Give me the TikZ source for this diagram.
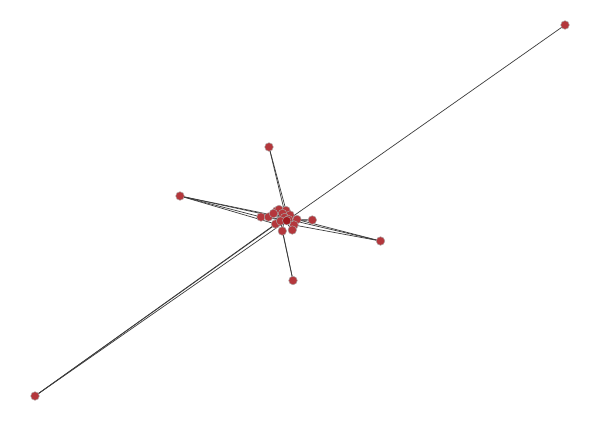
\documentclass[tikz,border=0pt]{standalone}
\begin{document}
\begin{tikzpicture}[x=1pt,y=-1pt,
  vtx/.style={circle,fill={rgb,255:red,180;green,55;blue,60},draw={rgb,255:red,170;green,160;blue,160},line width=0.5pt,inner sep=0pt,minimum size=8.5pt},
  edge/.style={draw={rgb,255:red,60;green,60;blue,60},line width=0.7pt}]
\useasboundingbox[fill=white] (0,0) rectangle (600,423);
% outer nodes
\coordinate (bl) at (35,396);
\coordinate (tr) at (565,25);
\coordinate (top) at (269,147);
\coordinate (bot) at (293,280.5);
\coordinate (lf) at (180,196);
\coordinate (rt) at (380.5,241);
\coordinate (c18) at (312.3,220);
% cluster
\coordinate (c1) at (261,217);
\coordinate (c2) at (268.5,217);
\coordinate (c3) at (276.5,211);
\coordinate (c4) at (279,209.5);
\coordinate (c5) at (286,210.5);
\coordinate (c6) at (290,215);
\coordinate (c7) at (284.5,217.5);
\coordinate (c8) at (280.5,221);
\coordinate (c9) at (288.5,219.5);
\coordinate (c10) at (297,219.5);
\coordinate (c11) at (294,225);
\coordinate (c12) at (282.3,231);
\coordinate (c13) at (292.3,230);
\coordinate (c14) at (275.5,224);
\coordinate (c15) at (273.5,213.5);
\coordinate (c16) at (282.5,213.5);
\coordinate (c17) at (286.7,220.7);
% edges
\draw[edge] (bl) -- (c14);
\draw[edge] (bl) -- (c8);
\draw[edge] (bl) -- (c17);
\draw[edge] (tr) -- (c17);
\draw[edge] (top) -- (c17);
\draw[edge] (top) -- (c9);
\draw[edge] (bot) -- (c12);
\draw[edge] (bot) -- (c8);
\draw[edge] (lf) -- (c1);
\draw[edge] (lf) -- (c7);
\draw[edge] (lf) -- (c9);
\draw[edge] (lf) -- (c14);
\draw[edge] (rt) -- (c10);
\draw[edge] (rt) -- (c9);
\draw[edge] (rt) -- (c11);
\draw[edge] (c18) -- (c17);
\draw[edge] (c18) -- (c10);
\draw[edge] (c1) -- (c17);
\draw[edge] (c2) -- (c17);
\draw[edge] (c3) -- (c13);
\draw[edge] (c5) -- (c12);
\draw[edge] (c4) -- (c11);
\draw[edge] (c15) -- (c9);
\draw[edge] (c16) -- (c14);
\draw[edge] (c6) -- (c8);
% vertices
\foreach \n in {bl,tr,top,bot,lf,rt,c18,c1,c2,c3,c4,c5,c6,c15,c16,c7,c14,c8,c9,c10,c11,c12,c13}
  \node[vtx] at (\n) {};
\node[vtx,fill={rgb,255:red,160;green,25;blue,30}] (n17) at (c17) {};
\end{tikzpicture}
\end{document}
